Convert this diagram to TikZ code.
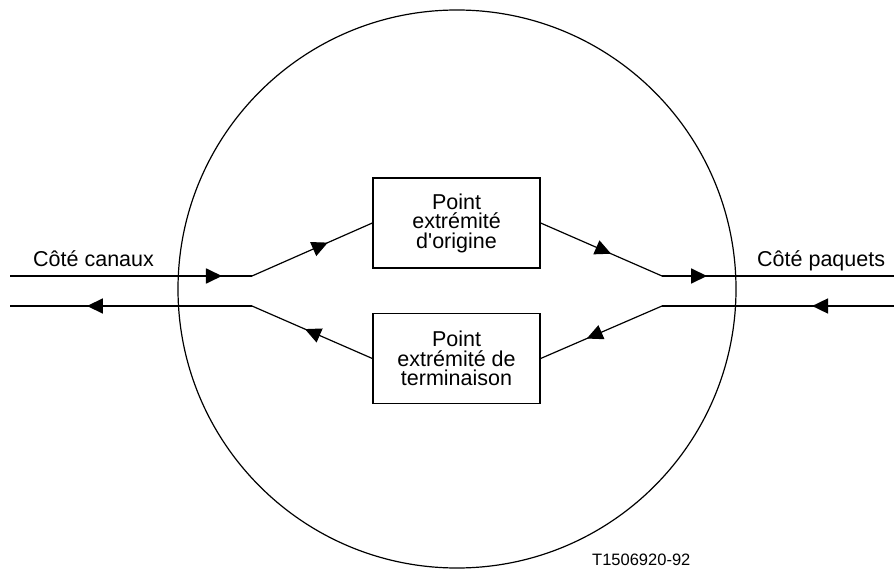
\documentclass[tikz,border=0pt]{standalone}
\usepackage{fontspec}
\setmainfont{Liberation Sans}
\usetikzlibrary{arrows.meta,decorations.markings}
\begin{document}
\begin{tikzpicture}[x=1pt,y=-1pt,
  tipat/.style={postaction={decorate},decoration={markings,
      mark=at position #1 with {\arrow{Triangle[length=16pt,width=15pt]}}}},
  wire/.style={line width=1.8pt},
  slant/.style={line width=1.2pt},
  unit/.style={draw,line width=1.3pt,minimum width=167pt,minimum height=90pt,
      align=center,inner sep=0pt,font=\fontsize{21.5}{19.5}\selectfont},
  side/.style={anchor=base west,inner sep=0pt,font=\fontsize{21.5}{24}\selectfont}]
  \useasboundingbox (0,0) rectangle (894,569);

  % the enclosing domain
  \node (domain) [circle,draw,line width=1.2pt,minimum size=558pt,inner sep=0pt] at (457,289) {};

  % the two end points
  \node (orig) [unit] at (456.5,223) {Point\\extrémité\\d\textquotesingle origine};
  \node (term) [unit] at (456.5,358.5) {Point\\extrémité de\\terminaison};

  % junctions and free ends
  \coordinate (inUL) at (10,276);
  \coordinate (inLL) at (10,306);
  \coordinate (jUL) at (252,276);
  \coordinate (jLL) at (252,306);
  \coordinate (jUR) at (662,276);
  \coordinate (jLR) at (662,306);
  \coordinate (outUR) at (894,276);
  \coordinate (outLR) at (894,306);

  % forward direction: channels -> packets
  \draw[wire,tipat=0.876] (inUL) -- (jUL);
  \draw[slant,tipat=0.63] (jUL) -- (orig.west);
  \draw[slant,tipat=0.58] (orig.east) -- (jUR);
  \draw[wire,tipat=0.194] (jUR) -- (outUR);

  % reverse direction: packets -> channels
  \draw[wire,tipat=0.353] (outLR) -- (jLR);
  \draw[slant,tipat=0.62] (jLR) -- (term.east);
  \draw[slant,tipat=0.56] (term.west) -- (jLL);
  \draw[wire,tipat=0.682] (jLL) -- (inLL);

  % side labels
  \node (canaux) [side] at (33,267) {Côté canaux};
  \node (paquets) [side] at (757,267) {Côté paquets};

  % figure reference
  \node (ref) [anchor=base west,inner sep=0pt,font=\fontsize{16.5}{18}\selectfont] at (592,565) {T1506920-92};
\end{tikzpicture}
\end{document}
